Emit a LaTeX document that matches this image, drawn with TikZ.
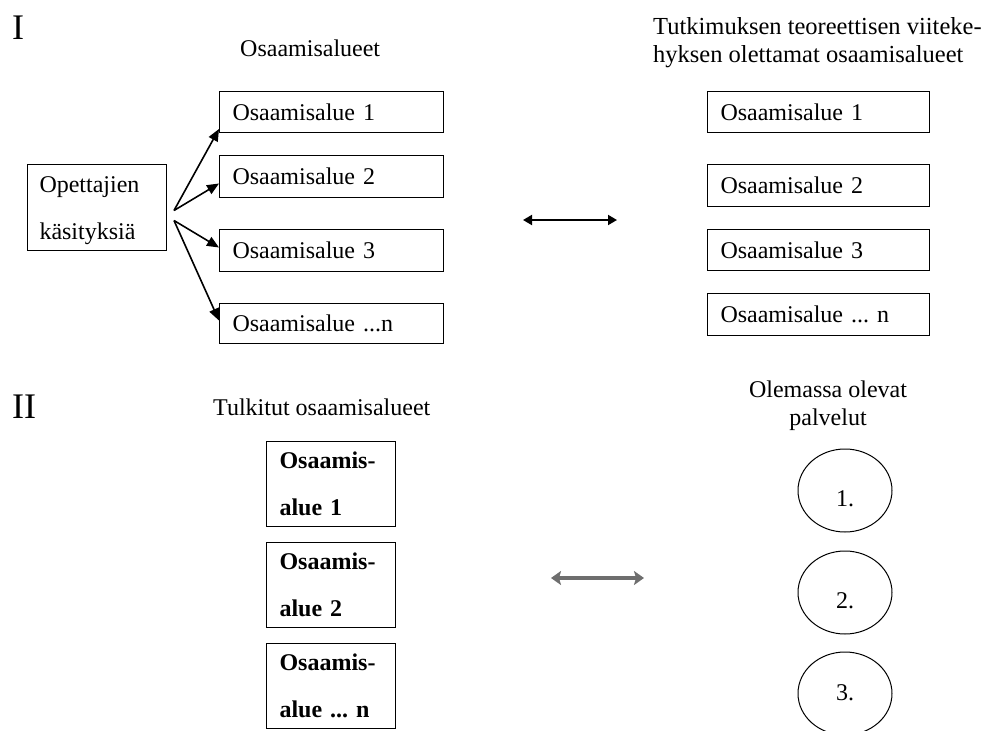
\documentclass[tikz,border=0pt]{standalone}
\usepackage{fontspec}
\setmainfont{Liberation Serif}
\usetikzlibrary{arrows.meta,shapes.geometric}
\definecolor{linkgrey}{RGB}{110,110,110}
\begin{document}
\frenchspacing
\begin{tikzpicture}[x=1pt,y=-1pt,
  every node/.style={inner sep=0pt, font=\fontsize{24}{28}\selectfont},
  roman/.style={anchor=base west, font=\fontsize{36}{40}\selectfont},
  head/.style={anchor=base west},
  areabox/.style={draw, line width=1pt, anchor=north west, inner xsep=13pt,
                  inner ysep=0pt, align=left},
  boldbox/.style={areabox, text width=103pt, minimum height=85pt,
                  font=\bfseries\fontsize{24}{47}\selectfont},
  svc/.style={ellipse, draw, line width=1pt, minimum width=94pt,
              minimum height=83pt, inner sep=0pt},
  fan/.style={line width=1.6pt, -{Triangle[length=12pt,width=10pt]}},
  link/.style={line width=1.8pt,
               {Triangle[length=9pt,width=10pt]}-{Triangle[length=9pt,width=10pt]}},
  glink/.style={draw=linkgrey, line width=4pt,
               {Stealth[length=10pt,width=14pt,inset=2pt]}-{Stealth[length=10pt,width=14pt,inset=2pt]}}
]
\path[use as bounding box] (0,0) rectangle (986,731);
\clip (0,0) rectangle (986,731);

% ---------- Part I ----------
\node[roman] (romI) at (12,39) {I};
\node[head] (headA) at (240,56) {Osaamisalueet};
% multi-line nodes without a text width: the base anchor sits on the last line
\node[head, align=left, font=\fontsize{24.5}{28}\selectfont] (headB) at (653,62)
  {Tutkimuksen teoreettisen viiteke-\\hyksen olettamat osaamisalueet};

\node[areabox, inner xsep=12pt, text width=115pt, minimum height=86pt, text depth=45pt,
      font=\fontsize{24}{47}\selectfont] (teach) at (27,164) {Opettajien\\käsityksiä};

\node[areabox, text width=198pt, minimum height=41pt] (a1) at (219,91)  {Osaamisalue 1};
\node[areabox, text width=198pt, minimum height=42pt] (a2) at (219,155) {Osaamisalue 2};
\node[areabox, text width=198pt, minimum height=42pt] (a3) at (219,229) {Osaamisalue 3};
\node[areabox, text width=198pt, minimum height=40pt] (a4) at (219,303) {Osaamisalue ...n};

\node[areabox, text width=196pt, minimum height=41pt] (t1) at (707,91)  {Osaamisalue 1};
\node[areabox, text width=196pt, minimum height=42pt] (t2) at (707,164) {Osaamisalue 2};
\node[areabox, text width=196pt, minimum height=41pt] (t3) at (707,229) {Osaamisalue 3};
\node[areabox, text width=196pt, minimum height=42pt] (t4) at (707,293) {Osaamisalue ... n};

% fan of arrows from the teachers' conceptions
\coordinate (fanU) at ([xshift=7pt,yshift=-3pt]teach.east);
\coordinate (fanD) at ([xshift=7pt,yshift=-13pt]teach.east);
\draw[fan] (fanU) -- ([yshift=4pt]a1.south west);
\draw[fan] (fanU) -- ([yshift=-7pt]a2.west);
\draw[fan] (fanD) -- ([yshift=3pt]a3.west);
\draw[fan] (fanD) -- ([yshift=3pt]a4.west);

\coordinate (linkAl) at (523,220);
\coordinate (linkAr) at (617,220);
\draw[link] (linkAl) -- (linkAr);

% ---------- Part II ----------
\node[roman] (romII) at (12,418) {II};
\node[head] (headC) at (213,415) {Tulkitut osaamisalueet};
\node[anchor=base, align=center] (headD) at (828,425) {Olemassa olevat\\palvelut};

\node[boldbox] (i1) at (266,441) {Osaamis-\\alue 1};
\node[boldbox] (i2) at (266,542) {Osaamis-\\alue 2};
\node[boldbox] (i3) at (266,643) {Osaamis-\\alue ... n};

\node[svc, text height=32pt] (c1) at (845,490.5) {1.};
\node[svc, text height=32pt] (c2) at (845,592.5) {2.};
\node[svc, text height=14pt] (c3) at (845,693.5) {3.};

\coordinate (linkBl) at (551,578);
\coordinate (linkBr) at (644,578);
\draw[glink] (linkBl) -- (linkBr);
\end{tikzpicture}
\end{document}
